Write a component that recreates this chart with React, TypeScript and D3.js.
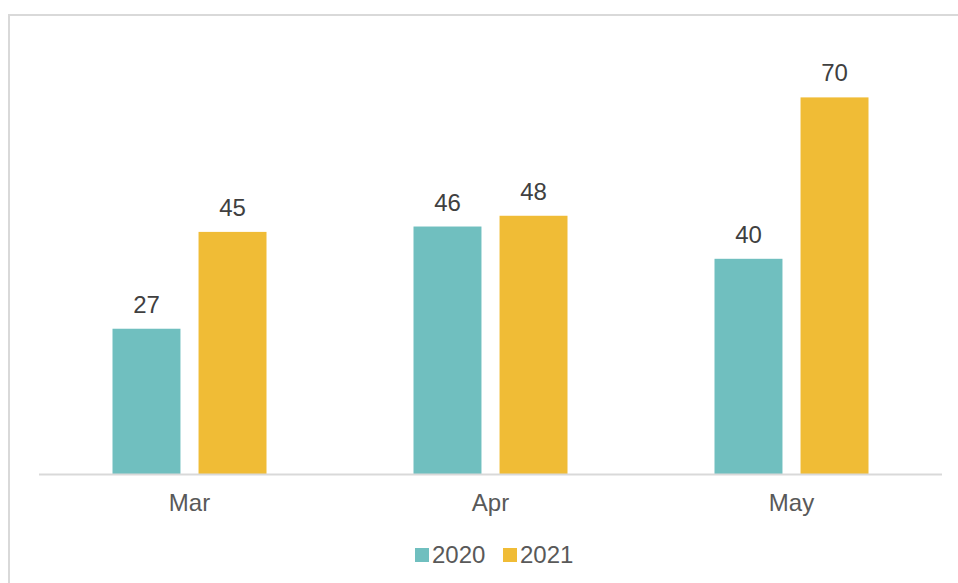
import React from "react";
import * as d3 from "d3";

const categories = ["Mar", "Apr", "May"];
const seriesNames = ["2020", "2021"];
const values2020 = [27, 46, 40];
const values2021 = [45, 48, 70];
const seriesColors = ["#70bfbf", "#f0bc36"];

const W = 958;
const H = 583;
const plot = { left: 39, right: 942, top: 43.6, bottom: 474 };

export default function App() {
  const x = d3
    .scaleBand<string>()
    .domain(categories)
    .range([plot.left, plot.right])
    .paddingInner(0)
    .paddingOuter(0);
  const inner = d3
    .scaleBand<string>()
    .domain(seriesNames)
    .range([73.5, x.bandwidth() - 73.5])
    .paddingInner(0.21)
    .paddingOuter(0);
  const y = d3.scaleLinear().domain([0, 80]).range([plot.bottom, plot.top]);

  const series = [values2020, values2021];
  const font = "'Liberation Sans', Arial, sans-serif";

  return (
    <svg
      width={W}
      height={H}
      style={{ position: "absolute", left: 0, top: 0, background: "#fff" }}
      fontFamily={font}
    >
      <rect x={9} y={15} width={1000} height={1000} fill="#fff" stroke="#d9d9d9" strokeWidth={2} />
      {categories.map((c, ci) =>
        series.map((vals, si) => {
          const bx = (x(c) ?? 0) + (inner(seriesNames[si]) ?? 0);
          const v = vals[ci];
          return (
            <g key={c + si}>
              <rect
                x={bx}
                y={y(v)}
                width={inner.bandwidth()}
                height={plot.bottom - y(v)}
                fill={seriesColors[si]}
              />
              <text
                x={bx + inner.bandwidth() / 2}
                y={y(v) - 16}
                textAnchor="middle"
                fontSize={24}
                fill="#404040"
              >
                {v}
              </text>
            </g>
          );
        })
      )}
      <line x1={plot.left} x2={plot.right} y1={plot.bottom + 0.5} y2={plot.bottom + 0.5} stroke="#d9d9d9" strokeWidth={2} />
      {categories.map((c) => (
        <text
          key={c}
          x={(x(c) ?? 0) + x.bandwidth() / 2}
          y={511}
          textAnchor="middle"
          fontSize={24}
          fill="#595959"
        >
          {c}
        </text>
      ))}
      {seriesNames.map((s, i) => {
        const lx = 415 + i * 88;
        return (
          <g key={s}>
            <rect x={lx} y={548} width={14} height={14} fill={seriesColors[i]} />
            <text x={lx + 17} y={563} fontSize={24} fill="#595959">
              {s}
            </text>
          </g>
        );
      })}
    </svg>
  );
}
